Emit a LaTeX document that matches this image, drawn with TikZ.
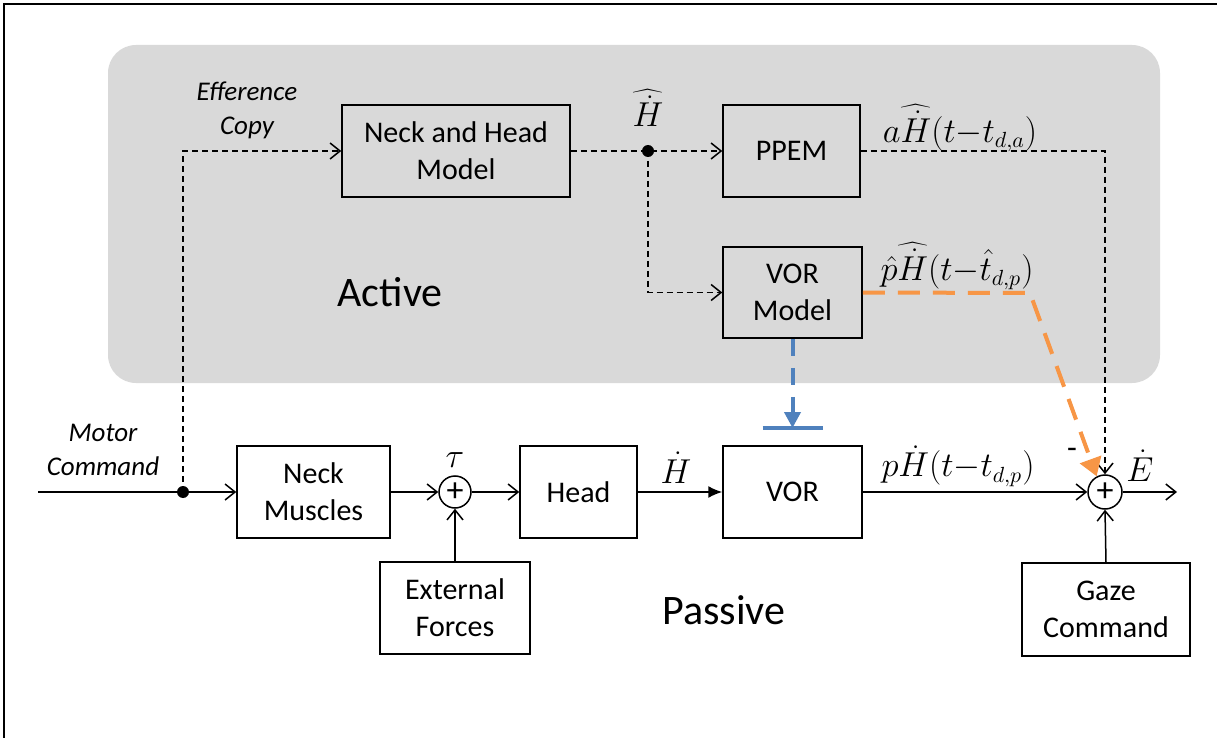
\documentclass[tikz,border=0pt]{standalone}
\usepackage{fontspec}
\setmainfont{Carlito}
\usetikzlibrary{arrows.meta}

\definecolor{panelgray}{HTML}{D9D9D9}
\definecolor{vorblue}{HTML}{4F81BD}
\definecolor{ppemorange}{HTML}{F79646}

\tikzset{
	blk/.style={draw, line width=0.75pt, align=center, inner sep=0pt, font=\fontsize{15}{18.5}\selectfont},
	sumnode/.style={draw, circle, line width=0.75pt, minimum size=16pt, inner sep=0pt, font=\fontsize{17}{17}\selectfont},
	sig/.style={line width=0.75pt, -{Straight Barb[length=5pt, width=8pt]}},
	effer/.style={sig, dash pattern=on 3pt off 2pt},
	lbl/.style={align=center, inner sep=1pt, font=\fontsize{16}{18}\selectfont},
	itlbl/.style={align=center, font=\fontsize{13.5}{17}\selectfont\itshape},
}

\begin{document}
\begin{tikzpicture}[x=0.5pt, y=-0.5pt]
			\useasboundingbox (0,0) rectangle (1217,738);
			\draw [line width=1.2pt] (4,738) -- (4,4) -- (1217,4);
			\fill [panelgray, rounded corners=14pt] (108,45) rectangle (1160,383);

			% active branch
			\node [blk, minimum width=114pt, minimum height=46pt] (nhm) at (456,151) {Neck and Head\\Model};
			\node [blk, minimum width=68.5pt, minimum height=46pt] (ppem) at (791.5,151) {PPEM};
			\node [blk, minimum width=69.5pt, minimum height=45.5pt] (vorm) at (792.5,292.5) {VOR\\Model};

			% passive branch
			\node [blk, minimum width=76.5pt, minimum height=46pt] (neck) at (313.5,492) {Neck\\Muscles};
			\node [sumnode] (sumtau) at (455,492) {+};
			\node [blk, minimum width=75pt, minimum height=46pt] (ext) at (455,608) {External\\Forces};
			\node [blk, minimum width=58.5pt, minimum height=46pt] (head) at (578.5,492) {Head};
			\node [blk, minimum width=69.5pt, minimum height=46pt] (vor) at (792.5,492) {VOR};
			\node [sumnode, minimum size=17pt] (sumgaze) at (1105,492) {+};
			\node [blk, minimum width=84pt, minimum height=46.5pt] (gaze) at (1106,609.5) {Gaze\\Command};

			\coordinate (mstart) at (38,492);
			\coordinate (mtap) at (183,492);
			\coordinate (hjoin) at (648,151);
			\coordinate (ppemturn) at (1105,151);
			\coordinate (orturn) at (1030,293);
			\coordinate (tbar) at (792.5,428);
			\coordinate (eout) at (1177,492);

			\draw [sig] (mstart) -- (neck.west);
			\fill (mtap) circle (3pt);
			\draw [sig] (neck.east) -- (sumtau.west);
			\draw [sig] (ext.north) -- (sumtau.south);
			\draw [sig] (sumtau.east) -- (head.west);
			\draw [line width=0.75pt, -{Latex[length=7pt, width=6pt]}] (head.east) -- (vor.west);
			\draw [sig] (vor.east) -- (sumgaze.west);
			\draw [sig] (gaze.north) -- (sumgaze.south);
			\draw [sig] (sumgaze.east) -- (eout);

			\draw [effer] (mtap) |- (nhm.west);
			\draw [effer] (nhm.east) -- (ppem.west);
			\fill (hjoin) circle (3pt);
			\draw [effer] (hjoin) |- (vorm.west);
			\draw [effer] (ppem.east) -- (ppemturn) -- (sumgaze.north);

			\draw [ppemorange, line width=2pt, dash pattern=on 11pt off 6.5pt, -{Triangle[length=9pt, width=11pt]}] (vorm.east) -- (orturn) -- (sumgaze.118);
			\draw [vorblue, line width=2pt, dash pattern=on 8.5pt off 6pt, -{Triangle[length=8pt, width=8pt]}] (vorm.south) -- (tbar);
			\draw [vorblue, line width=2pt] ([xshift=-15pt]tbar) -- ([xshift=15pt]tbar);

			\node [itlbl] (efflbl) at (247,110) {Efference\\Copy};
			\node [itlbl] (motlbl) at (103,450) {Motor\\Command};
			\node [lbl] (taulbl) at (455,460) {$\tau$};
			\node [lbl] (hhatlbl) at (648,108) {$\widehat{\dot H}$};
			\node [lbl] (hdotlbl) at (676,468) {$\dot H$};
			\node [lbl] (alatlbl) at (960,128) {$a\widehat{\dot H}(t{-}t_{d,a})$};
			\node [lbl] (phatlbl) at (957,266) {$\hat p\widehat{\dot H}(t{-}\hat t_{d,p})$};
			\node [lbl] (plbl) at (958,466) {$p\dot H(t{-}t_{d,p})$};
			\node [lbl] (edotlbl) at (1140,466) {$\dot E$};
			\node [lbl] (minuslbl) at (1072,453) {-};

			\node [font=\fontsize{21}{24}\selectfont] (actlbl) at (390,292) {Active};
			\node [font=\fontsize{21}{24}\selectfont] (paslbl) at (724,610) {Passive};
		\end{tikzpicture}
\end{document}
